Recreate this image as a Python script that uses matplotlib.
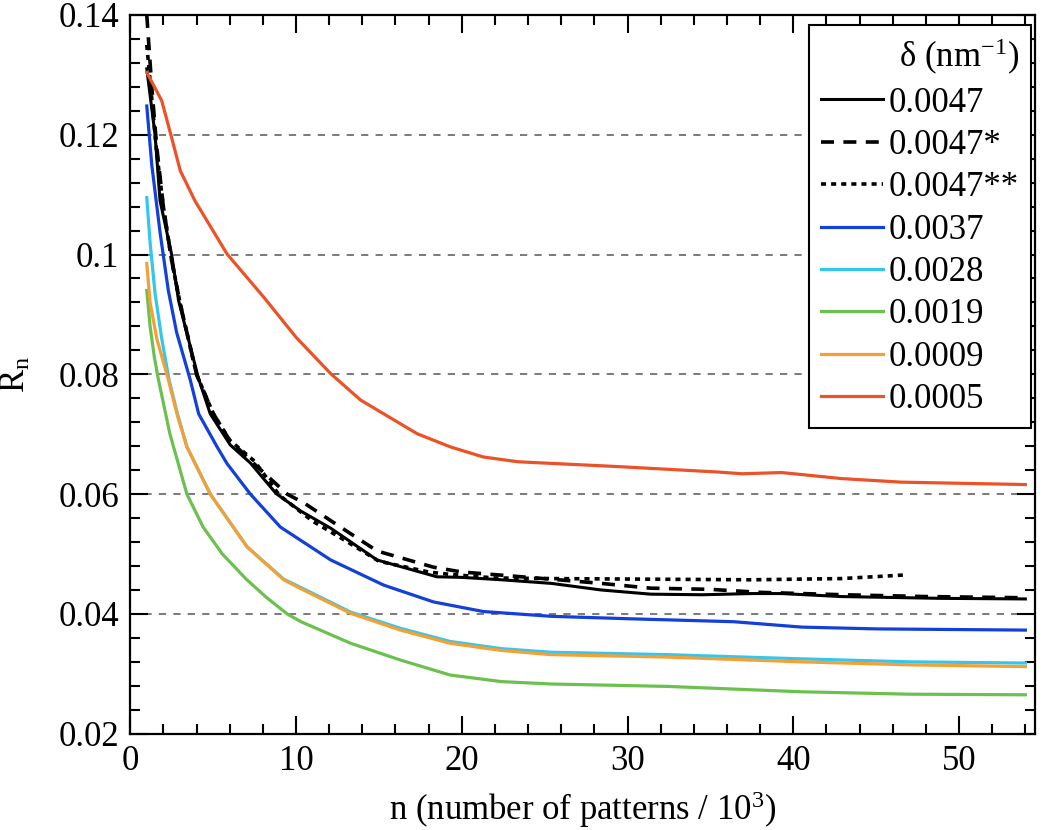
import numpy as np
import matplotlib
matplotlib.use("Agg")
import matplotlib.pyplot as plt
from matplotlib.ticker import MultipleLocator, FuncFormatter

plt.rcParams['font.family'] = ['Liberation Serif', 'DejaVu Serif']
plt.rcParams['mathtext.fontset'] = 'custom'
plt.rcParams['mathtext.rm'] = 'Liberation Serif'
plt.rcParams['mathtext.it'] = 'Liberation Serif:italic'

# values (n in thousands of patterns, R_n)
x_0047 = [1, 1.5, 1.8, 2.5, 2.92, 3.5, 4.1, 4.83, 6.04, 7.25, 8.8, 10.27, 12.1, 14.9, 18.5,
          20, 22.4, 25.4, 28.4, 31.4, 34.5, 37.5, 39.3, 42.9, 48.9, 54]
y_0047 = [.131, .120, .109, .100, .0923, .086, .0795, .0734, .0682, .0652, .0601, .0572, .0543,
          .049, .0462, .0461, .0457, .0451, .044, .0433, .0432, .0434, .0434, .0429, .0426, .0425]

x_0047s = [1, 1.3, 1.6, 2, 2.5, 3, 4, 5, 6, 7.5, 9.47, 10.5, 12.3, 14.9, 18.3, 20, 25.4, 28.4,
           31.4, 35, 38, 43, 48, 54]
y_0047s = [.140, .128, .118, .108, .099, .092, .080, .0735, .069, .065, .060, .0585, .0552,
           .0505, .0478, .047, .0458, .0451, .0443, .0441, .0436, .0432, .0429, .0427]

x_0047ss = [1, 1.3, 1.6, 2, 2.5, 3, 4, 5, 6, 7.5, 9, 11, 13, 15, 18, 19.3, 22, 25.4, 31.4,
            37.5, 42.9, 46.7]
y_0047ss = [.135, .126, .117, .108, .099, .092, .080, .0735, .069, .0655, .0598, .0555, .0522,
            .0488, .047, .0466, .046, .0459, .0458, .0457, .0459, .0465]

x_0037 = [1, 1.3, 1.81, 2.3, 2.8, 3.63, 4.13, 5.24, 5.84, 7.25, 9.06, 12.1, 15.3, 18.3, 21.3,
          25.4, 30, 36.4, 40.5, 45, 54]
y_0037 = [.1248, .115, .1035, .094, .087, .079, .0734, .0679, .0651, .060, .0545, .049,
          .0448, .042, .0404, .0396, .0392, .0387, .0378, .0375, .0373]

x_0028 = [1, 1.2, 1.5, 1.9, 2.35, 2.85, 3.42, 4.83, 7.05, 9.26, 10.3, 13.3, 16.3, 19.3, 22.4,
          25.4, 32.4, 40.5, 47, 54]
y_0028 = [.1095, .102, .0935, .086, .079, .0734, .0679, .060, .0512, .0458, .0444, .0403,
          .0376, .0354, .0342, .0336, .0332, .0325, .032, .0318]

x_0019 = [1, 1.2, 1.45, 1.71, 2.4, 3.42, 4.4, 5.56, 7.0, 8.2, 9.47, 10.3, 13.3, 16.3, 19.3,
          22.4, 25.4, 32.4, 40.5, 47, 54]
y_0019 = [.094, .088, .083, .079, .070, .060, .0545, .050, .0458, .0428, .040, .0387, .0351,
          .0323, .0298, .0287, .0283, .0279, .027, .0266, .0265]

x_0009 = [1, 1.2, 1.6, 2.31, 2.82, 3.42, 4.83, 7.05, 9.26, 10.3, 13.3, 16.3, 19.3, 22.4,
          25.4, 32.4, 40.5, 47, 54]
y_0009 = [.0985, .092, .086, .079, .0734, .0679, .060, .0512, .0457, .0442, .0401, .0373,
          .0351, .0339, .0332, .0328, .032, .0315, .0312]

x_0005 = [1, 1.9, 2.5, 3.02, 3.9, 5.84, 8.05, 10, 12.1, 13.9, 17.3, 19.3, 21.3, 23.4, 29.4,
          35.4, 36.9, 39.3, 42.9, 46.5, 54]
y_0005 = [.1304, .1257, .1195, .114, .109, .1001, .0929, .0862, .0801, .0757, .0701, .0679,
          .0662, .0654, .0646, .0637, .0634, .0636, .0626, .062, .0616]

fig = plt.figure(figsize=(10.5, 8.3), dpi=100)
ax = fig.add_axes([0.124, 0.116, 0.862, 0.866])

ax.plot(x_0047, y_0047, color='black', lw=2.2, label='0.0047')
ax.plot(x_0047s, y_0047s, color='black', lw=2.6, ls=(0, (3.6, 2.6)), label='0.0047*')
ax.plot(x_0047ss, y_0047ss, color='black', lw=2.6, ls=(0, (1.4, 1.4)), label='0.0047**')
ax.plot(x_0037, y_0037, color='#1240d8', lw=2.3, label='0.0037')
ax.plot(x_0028, y_0028, color='#33c6ee', lw=2.3, label='0.0028')
ax.plot(x_0019, y_0019, color='#6cc04e', lw=2.3, label='0.0019')
ax.plot(x_0009, y_0009, color='#f4a032', lw=2.3, label='0.0009')
ax.plot(x_0005, y_0005, color='#ec5228', lw=2.3, label='0.0005')

ax.set_xlim(0, 54.6)
ax.set_ylim(0.02, 0.14)

for yv in [0.04, 0.06, 0.08, 0.10, 0.12]:
    ax.axhline(yv, color='#707070', lw=1.3, ls=(0, (4, 4)), zorder=0)

ax.xaxis.set_major_locator(MultipleLocator(10))
ax.xaxis.set_minor_locator(MultipleLocator(2))
ax.yaxis.set_major_locator(MultipleLocator(0.02))
ax.yaxis.set_minor_locator(MultipleLocator(0.004))
ax.yaxis.set_major_formatter(FuncFormatter(lambda v, p: '%g' % round(v, 3)))
ax.tick_params(which='both', direction='in', top=True, right=True, labelsize=25, width=1.5)
ax.tick_params(which='major', length=13, pad=8)
ax.tick_params(which='minor', length=7)
for s in ax.spines.values():
    s.set_linewidth(1.6)

ax.set_xlabel(r'n (number of patterns / 10$\mathregular{^{3}}$)', fontsize=25, labelpad=8)
ax.set_ylabel(r'R$\mathregular{_n}$', fontsize=25, labelpad=18)

leg = ax.legend(loc='upper right', bbox_to_anchor=(0.995, 0.986), borderaxespad=0,
                fontsize=25, title='δ (nm$\\mathregular{^{-1}}$)', title_fontsize=25,
                handlelength=1.8, handletextpad=0.15, labelspacing=0.27,
                borderpad=0.35, fancybox=False, framealpha=1, edgecolor='black',
                alignment='right')
leg.get_frame().set_linewidth(1.5)

fig.savefig('out.png', dpi=100)
